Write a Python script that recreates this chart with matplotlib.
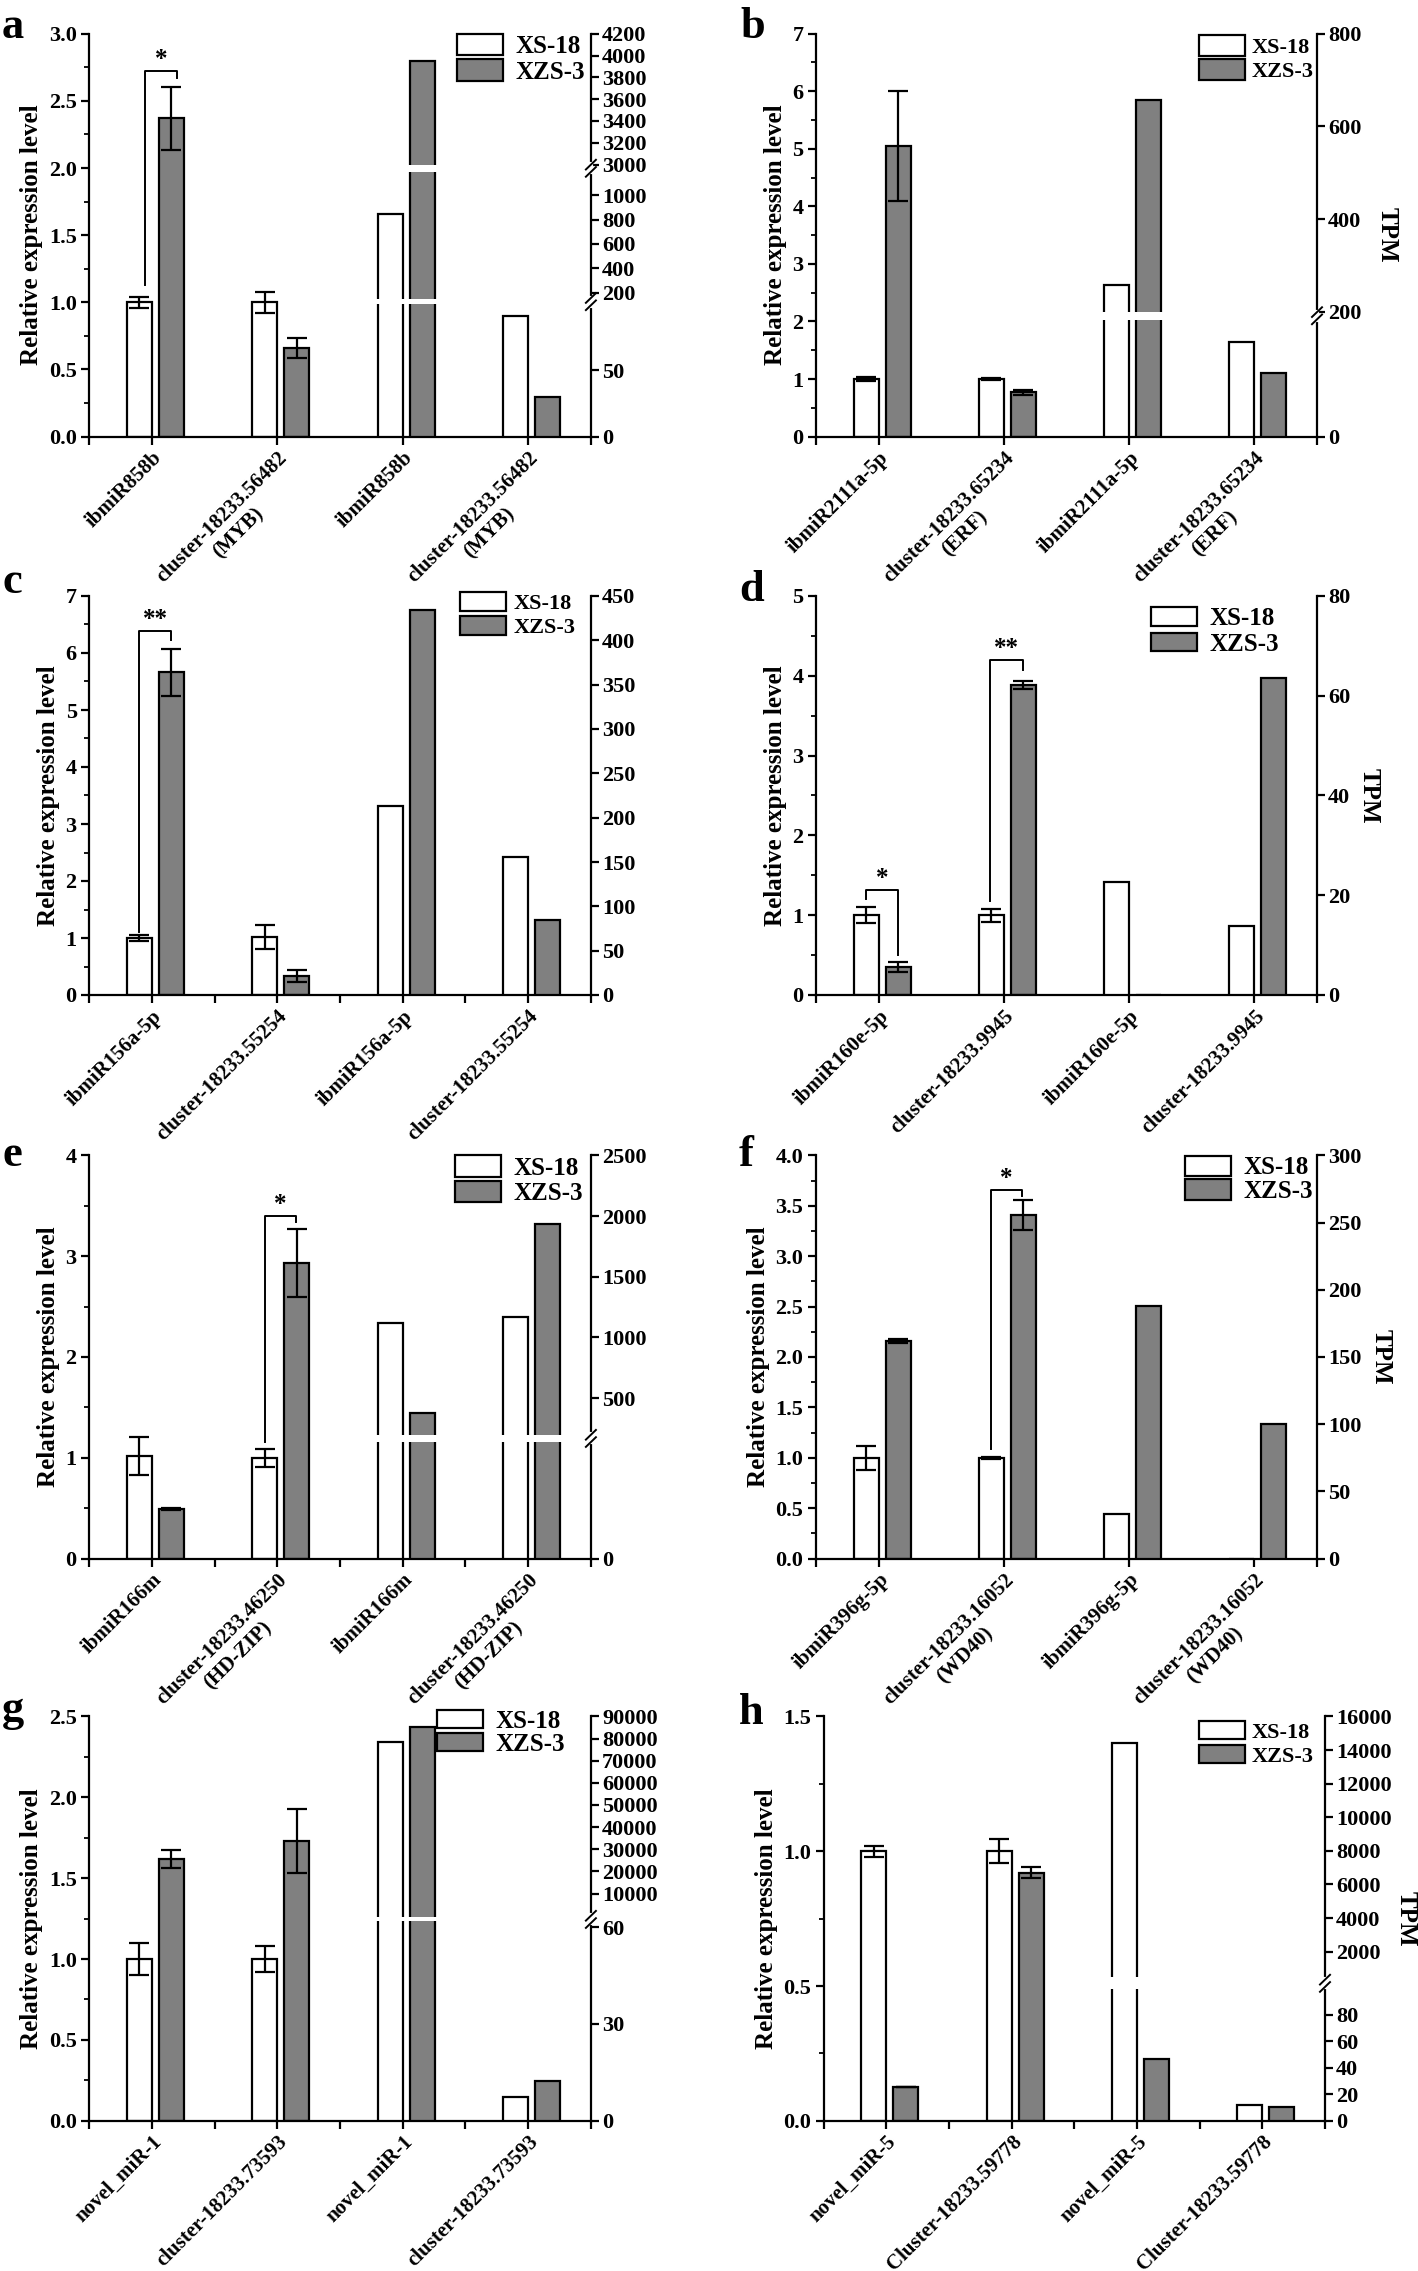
import numpy as np
import matplotlib
matplotlib.use("Agg")
import matplotlib.pyplot as plt
from matplotlib.ticker import FixedLocator, MultipleLocator, FormatStrFormatter

# ---------------- data ----------------
panel_ids = ['a', 'b', 'c', 'd', 'e', 'f', 'g', 'h']
series = ['XS-18', 'XZS-3']

mirnas = ['ibmiR858b', 'ibmiR2111a-5p', 'ibmiR156a-5p', 'ibmiR160e-5p',
          'ibmiR166m', 'ibmiR396g-5p', 'novel_miR-1', 'novel_miR-5']
targets = ['cluster-18233.56482\n(MYB)', 'cluster-18233.65234\n(ERF)',
           'cluster-18233.55254', 'cluster-18233.9945',
           'cluster-18233.46250\n(HD-ZIP)', 'cluster-18233.16052\n(WD40)',
           'cluster-18233.73593', 'Cluster-18233.59778']

# qRT-PCR relative expression, [miRNA, target] for each panel
rel_xs18 = [[1.0, 1.0], [1.0, 1.0], [1.0, 1.02], [1.0, 1.0],
            [1.02, 1.0], [1.0, 1.0], [1.0, 1.0], [1.0, 1.0]]
rel_xs18_sd = [[0.04, 0.08], [0.03, 0.02], [0.05, 0.21], [0.10, 0.08],
               [0.19, 0.09], [0.12, 0.01], [0.10, 0.08], [0.02, 0.045]]
rel_xzs3 = [[2.37, 0.66], [5.05, 0.77], [5.66, 0.33], [0.35, 3.89],
            [0.49, 2.93], [2.16, 3.41], [1.62, 1.73], [0.127, 0.92]]
rel_xzs3_sd = [[0.235, 0.075], [0.96, 0.04], [0.41, 0.10], [0.06, 0.05],
               [0.01, 0.34], [0.02, 0.15], [0.057, 0.20], [0.0, 0.02]]

# sequencing TPM, [miRNA, target] for each panel
tpm_xs18 = [[845, 91], [258, 154], [213, 156], [22.6, 13.9],
            [1118, 1171], [33, 0], [78500, 7.5], [14440, 11.9]]
tpm_xzs3 = [[3950, 30], [658, 103], [434, 85], [0, 63.5],
            [376, 1935], [188, 100], [85000, 12.2], [46.8, 10.3]]

# right axis tick values
tpm_ticks = [
    [0, 50, 200, 400, 600, 800, 1000, 3000, 3200, 3400, 3600, 3800, 4000, 4200],
    [0, 200, 400, 600, 800],
    [0, 50, 100, 150, 200, 250, 300, 350, 400, 450],
    [0, 20, 40, 60, 80],
    [0, 500, 1000, 1500, 2000, 2500],
    [0, 50, 100, 150, 200, 250, 300],
    [0, 30, 60, 10000, 20000, 30000, 40000, 50000, 60000, 70000, 80000, 90000],
    [0, 20, 40, 60, 80, 2000, 4000, 6000, 8000, 10000, 12000, 14000, 16000],
]

# significance marks (panel, group, label)
sig_marks = [(0, 0, '*'), (2, 0, '**'), (3, 0, '*'), (3, 1, '**'), (4, 1, '*'), (5, 1, '*')]

# ---------------- layout / style ----------------
W, H = 1418, 2271
axes_px = [(89.2, 33.7, 590.9, 436.6), (816, 33.7, 1317, 436.6),
           (89.2, 596, 590.9, 995), (816, 596, 1317, 995),
           (89.2, 1155.3, 590.9, 1558.6), (816, 1155.3, 1317, 1558.6),
           (89.2, 1716.4, 590.9, 2120.8), (823.8, 1716.4, 1325, 2120.8)]
letter_px = [(2, 38), (740, 38), (2, 593), (739, 601),
             (2, 1166), (739, 1166), (2, 1721), (739, 1724)]
rel_top = [3.0, 7, 7, 5, 4, 4.0, 2.5, 1.5]
rel_major = [0.5, 1, 1, 1, 1, 0.5, 0.5, 0.5]
rel_fmt = ['%.1f', '%d', '%d', '%d', '%d', '%.1f', '%.1f', '%.1f']
mid_ticks = [False, False, True, False, True, False, True, True]
# broken right axes: TPM breakpoints -> fraction of axis height
tpm_scale = [
    ([0, 100, 150, 1188, 3000, 4200], [0, 0.329, 0.342, 0.656, 0.675, 1.0]),
    ([0, 190, 200, 800], [0, 0.2906, 0.3096, 1.0]),
    450, 80,
    ([0, 180, 200, 2500], [0, 0.2896, 0.3073, 1.0]),
    300,
    ([0, 62, 500, 10000, 90000], [0, 0.495, 0.5048, 0.5619, 1.0]),
    ([0, 99, 467, 16000], [0, 0.3249, 0.3545, 1.0]),
]
gaps = [[(100, 150), (1188, 3000)], [(190, 200)], [], [], [(180, 200)], [],
        [(62, 500)], [(99, 467)]]
break_fr = [[0.335, 0.666], [0.30], [], [], [0.298], [], [0.498], [0.34]]
tpm_pad = [0, 10, 0, 5, 0, 6, 0, 2]
# bracket geometry: x offset left/right, y left, y top, y right
bracket_geo = [(-0.055, 0.2, 1.13, 2.72, 2.67), (-0.1, 0.15, 1.11, 6.38, 6.22),
               (-0.1, 0.152, 1.20, 1.316, 0.50), (-0.108, 0.155, 1.18, 4.20, 4.07),
               (-0.1, 0.152, 1.16, 3.40, 3.34), (-0.1, 0.144, 1.09, 3.66, 3.60)]
legend_xy = [(0.734, 1.0), (0.764, 0.997), (0.740, 1.01), (0.669, 0.972),
             (0.729, 1.0), (0.736, 0.999), (0.693, 1.017), (0.749, 0.988)]
legend_fs = [18, 16, 16, 18, 18, 18, 18, 16]
legend_hl = [1.84, 2.07, 2.07, 1.84, 1.84, 1.84, 1.84, 2.07]
legend_hh = [0.95, 1.07, 0.96, 0.76, 0.93, 0.86, 0.77, 0.87]
legend_sp = [0.05, 0.06, 0.08, 0.11, 0.04, 0.0, 0.0, 0.09]
legend_tp = [0.5, 0.3, 0.3, 0.5, 0.5, 0.5, 0.5, 0.3]

GRAY = '#808080'
LW = 1.6

plt.rcParams['font.family'] = ['Liberation Serif', 'DejaVu Serif']
plt.rcParams['font.weight'] = 'bold'
plt.rcParams['axes.labelweight'] = 'bold'
plt.rcParams['axes.linewidth'] = LW


def make_scale(d, f):
    d = np.asarray(d, float)
    f = np.asarray(f, float)
    s0 = (f[1] - f[0]) / (d[1] - d[0])
    s1 = (f[-1] - f[-2]) / (d[-1] - d[-2])
    D = np.r_[d[0] - 1e7, d, d[-1] + 1e7]
    F = np.r_[f[0] - 1e7 * s0, f, f[-1] + 1e7 * s1]
    return (lambda v: np.interp(v, D, F), lambda v: np.interp(v, F, D))


fig = plt.figure(figsize=(W / 100, H / 100), dpi=100)

x = np.arange(4)
w = 0.2
off_a, off_b = -0.1, 0.155

for i, p in enumerate(panel_ids):
    l, t, r, b = axes_px[i]
    ax = fig.add_axes([l / W, 1 - b / H, (r - l) / W, (b - t) / H])
    ax2 = ax.twinx()

    err_kw = dict(elinewidth=LW, capthick=LW, ecolor='black')
    b1 = ax.bar(x[:2] + off_a, rel_xs18[i], w, yerr=rel_xs18_sd[i], capsize=7,
                color='white', edgecolor='black', linewidth=LW, error_kw=err_kw)
    b2 = ax.bar(x[:2] + off_b, rel_xzs3[i], w, yerr=rel_xzs3_sd[i], capsize=7,
                color=GRAY, edgecolor='black', linewidth=LW, error_kw=err_kw)

    sc = tpm_scale[i]
    if isinstance(sc, tuple):
        ax2.set_yscale('function', functions=make_scale(*sc))
        ax2.set_ylim(0, sc[0][-1])
    else:
        ax2.set_ylim(0, sc)
    ax2.bar(x[2:] + off_a, tpm_xs18[i], w, color='white', edgecolor='black', linewidth=LW)
    ax2.bar(x[2:] + off_b, tpm_xzs3[i], w, color=GRAY, edgecolor='black', linewidth=LW)
    for lo, hi in gaps[i]:
        ax2.fill_between([1.5, 3.5], lo, hi, color='white', linewidth=0, zorder=5)
    for yf in break_fr[i]:
        ax2.plot([1, 1], [yf - 0.01, yf + 0.01], transform=ax2.transAxes,
                 color='white', lw=3, clip_on=False, zorder=6)
        for dy in (-0.009, 0.009):
            ax2.plot([1 - 0.01, 1 + 0.01], [yf + dy - 0.012, yf + dy + 0.012],
                     transform=ax2.transAxes, color='black', lw=1.4,
                     clip_on=False, zorder=7)

    ax.set_xlim(-0.5, 3.5)
    ax.set_ylim(0, rel_top[i])
    ax.yaxis.set_major_locator(MultipleLocator(rel_major[i]))
    ax.yaxis.set_minor_locator(MultipleLocator(rel_major[i] / 2))
    ax.yaxis.set_major_formatter(FormatStrFormatter(rel_fmt[i]))
    ax.set_xticks(x)
    ax.set_xticklabels([mirnas[i], targets[i], mirnas[i], targets[i]],
                       rotation=45, ha='right', va='top', rotation_mode='anchor',
                       multialignment='center', fontsize=15)
    mids = [-0.5, 0.5, 1.5, 2.5, 3.5] if mid_ticks[i] else [-0.5, 3.5]
    ax.xaxis.set_minor_locator(FixedLocator(mids))
    ax.tick_params(axis='x', which='both', direction='out', length=6, width=LW, pad=2)
    ax.tick_params(axis='y', which='major', direction='out', length=6, width=LW,
                   labelsize=16, pad=3)
    ax.tick_params(axis='y', which='minor', direction='out', length=3.5, width=1.3)
    ax.spines['top'].set_visible(False)
    ax.spines['right'].set_visible(False)
    ax.set_ylabel('Relative expression level', fontsize=18, labelpad=4)

    ax2.yaxis.set_major_locator(FixedLocator(tpm_ticks[i]))
    ax2.yaxis.set_minor_locator(FixedLocator([]))
    ax2.set_yticklabels([str(v) for v in tpm_ticks[i]])
    ax2.tick_params(axis='y', which='major', direction='out', length=6, width=LW,
                    labelsize=16, pad=2)
    for s in ('top', 'left', 'bottom'):
        ax2.spines[s].set_visible(False)
    if i % 2 == 1:
        ax2.set_ylabel('TPM', fontsize=18, rotation=270, va='bottom',
                       labelpad=tpm_pad[i])

    ax2.legend([b1, b2], series, loc='upper left', bbox_to_anchor=legend_xy[i],
               frameon=False, fontsize=legend_fs[i], handlelength=legend_hl[i],
               handleheight=legend_hh[i], handletextpad=legend_tp[i],
               labelspacing=legend_sp[i], borderpad=0, borderaxespad=0)

    lx, ly = letter_px[i]
    fig.text(lx / W, 1 - ly / H, p, fontsize=32, fontweight='bold',
             ha='left', va='baseline')

    for k, (pi, g, lab) in enumerate(sig_marks):
        if pi != i:
            continue
        xl, xr, yl, yt, yr = bracket_geo[k]
        ax.plot([g + xl, g + xl, g + xr, g + xr], [yl, yt, yt, yr],
                color='black', lw=1.4)
        ax.text(g + (xl + xr) / 2, yt, lab, ha='center', va='bottom', fontsize=18)

fig.savefig('out.png', dpi=100)
